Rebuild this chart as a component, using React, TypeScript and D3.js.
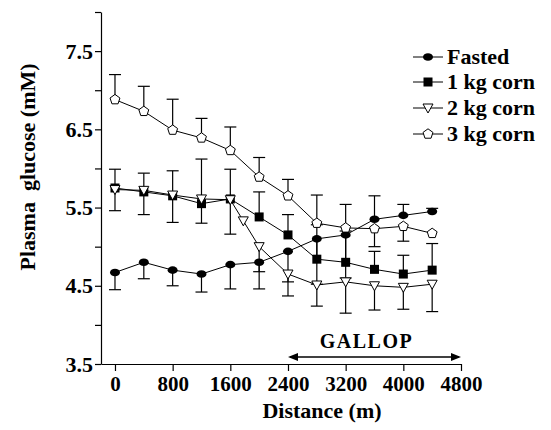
import { useEffect, useRef } from 'react';
import { select, scaleLinear, line, axisLeft, axisBottom, range } from 'd3';

// distances (m) where glucose was sampled
const distance = [0, 400, 800, 1200, 1600, 2000, 2400, 2800, 3200, 3600, 4000, 4400];
// the 2 kg series has one extra sample between 1600 and 2000
const distance2kg = [0, 400, 800, 1200, 1600, 1780, 2000, 2400, 2800, 3200, 3600, 4000, 4400];

// Fasted
const fasted = [4.67, 4.80, 4.70, 4.65, 4.77, 4.80, 4.94, 5.10, 5.15, 5.35, 5.40, 5.45];
const fastedLow = [4.45, 4.59, 4.50, 4.42, 4.46, 4.46, 4.55, 4.52, 4.60, null, null, null];
const fastedHigh = [null, null, null, null, null, null, null, null, null, 5.65, 5.54, 5.49];

// 1 kg corn
const corn1 = [5.75, 5.70, 5.65, 5.55, 5.61, 5.38, 5.15, 4.84, 4.80, 4.71, 4.65, 4.70];
const corn1High = [5.99, 5.94, 5.97, 6.12, 5.99, 5.70, 5.41, 5.28, 5.20, 4.94, 4.89, 5.04];

// 2 kg corn
const corn2 = [5.73, 5.72, 5.66, 5.61, 5.60, 5.33, 5.00, 4.65, 4.51, 4.55, 4.50, 4.48, 4.52];
const corn2Low = [5.46, 5.41, 5.31, 5.30, 5.16, null, 4.68, 4.37, 4.24, 4.15, 4.19, 4.20, 4.17];

// 3 kg corn
const corn3 = [6.88, 6.73, 6.49, 6.39, 6.23, 5.89, 5.65, 5.30, 5.24, 5.23, 5.26, 5.17];
const corn3High = [7.20, 7.05, 6.885, 6.64, 6.53, 6.14, 5.86, 5.66, 5.54, null, null, null];
const corn3Low = [null, null, null, null, null, null, null, null, null, 5.00, 5.07, null];

const yTicks = range(3.5, 8.01, 0.5);
const yLabels = [3.5, 4.5, 5.5, 6.5, 7.5];
const xTicks = [0, 800, 1600, 2400, 3200, 4000, 4800];
const legendNames = ['Fasted', '1 kg corn', '2 kg corn', '3 kg corn'];
const gallop = [2400, 4800];

const FONT = "'Liberation Serif', 'Times New Roman', serif";

const App = () => {
  const ref = useRef(null);

  useEffect(() => {
    const svg = select(ref.current);
    svg.selectAll('*').remove();

    const x = scaleLinear().domain([-194, 4800]).range([101, 461]);
    const y = scaleLinear().domain([3.5, 8]).range([364, 12]);

    // ---- axes
    const yAxis = svg.append('g')
      .attr('transform', 'translate(101,0)')
      .call(axisLeft(y).tickValues(yTicks).tickSize(6).tickSizeOuter(0)
        .tickFormat(d => (yLabels.some(v => Math.abs(v - d) < 1e-6) ? d.toFixed(1) : '')));
    yAxis.selectAll('text')
      .attr('x', -8)
      .attr('font-family', FONT).attr('font-weight', 'bold').attr('font-size', 22)
      .attr('fill', '#000');

    const xAxis = svg.append('g')
      .attr('transform', 'translate(0,364)')
      .call(axisBottom(x).tickValues(xTicks).tickSize(7).tickSizeOuter(0).tickFormat(d => String(d)));
    xAxis.selectAll('text')
      .attr('y', 12)
      .attr('font-family', FONT).attr('font-weight', 'bold').attr('font-size', 21)
      .attr('fill', '#000');
    svg.selectAll('.domain, .tick line').attr('stroke', '#000').attr('stroke-width', 1.2);

    // axis titles
    svg.append('text')
      .attr('x', 322).attr('y', 418)
      .attr('text-anchor', 'middle')
      .attr('font-family', FONT).attr('font-weight', 'bold').attr('font-size', 22)
      .text('Distance (m)');
    svg.append('text')
      .attr('transform', 'translate(35,167) rotate(-90)')
      .attr('text-anchor', 'middle')
      .attr('font-family', FONT).attr('font-weight', 'bold').attr('font-size', 22)
      .attr('xml:space', 'preserve')
      .style('white-space', 'pre')
      .text('Plasma  glucose (mM)');

    // GALLOP arrow
    const ga = svg.append('g');
    const gy = 357;
    ga.append('line')
      .attr('x1', x(gallop[0]) + 2).attr('x2', x(gallop[1]) - 2)
      .attr('y1', gy).attr('y2', gy)
      .attr('stroke', '#000').attr('stroke-width', 1.5);
    const x0 = x(gallop[0]), x1 = x(gallop[1]);
    ga.append('path').attr('d', `M${x0},${gy} L${x0 + 10},${gy - 4} L${x0 + 10},${gy + 4} Z`);
    ga.append('path').attr('d', `M${x1},${gy} L${x1 - 10},${gy - 4} L${x1 - 10},${gy + 4} Z`);
    ga.append('text')
      .attr('x', (x0 + x1) / 2 - 8).attr('y', 348)
      .attr('text-anchor', 'middle')
      .attr('font-family', FONT).attr('font-weight', 'bold').attr('font-size', 20)
      .attr('letter-spacing', 1.5)
      .text('GALLOP');

    // ---- markers
    const drawMarker = (g, kind, cx, cy) => {
      if (kind === 'circle') {
        g.append('ellipse').attr('cx', cx).attr('cy', cy).attr('rx', 5).attr('ry', 3.8).attr('fill', '#000');
      } else if (kind === 'square') {
        g.append('rect').attr('x', cx - 4.5).attr('y', cy - 4.5).attr('width', 9).attr('height', 9).attr('fill', '#000');
      } else if (kind === 'triangle') {
        g.append('path')
          .attr('d', `M${cx - 5},${cy - 4} L${cx + 5},${cy - 4} L${cx},${cy + 5} Z`)
          .attr('fill', '#fff').attr('stroke', '#000').attr('stroke-width', 1);
      } else {
        const pts = range(5).map(i => {
          const a = -Math.PI / 2 + i * 2 * Math.PI / 5;
          return [cx + 5.2 * Math.cos(a), cy + 5.2 * Math.sin(a)];
        });
        g.append('path')
          .attr('d', 'M' + pts.map(p => p.join(',')).join('L') + 'Z')
          .attr('fill', '#fff').attr('stroke', '#000').attr('stroke-width', 1);
      }
    };

    const series = [
      { xs: distance, ys: fasted, ends: [fastedLow, fastedHigh], kind: 'circle' },
      { xs: distance, ys: corn1, ends: [corn1High], kind: 'square' },
      { xs: distance2kg, ys: corn2, ends: [corn2Low], kind: 'triangle' },
      { xs: distance, ys: corn3, ends: [corn3High, corn3Low], kind: 'pentagon' },
    ];

    const plot = svg.append('g');
    // error bars
    series.forEach(s => {
      s.ends.forEach(arr => {
        arr.forEach((e, i) => {
          if (e === null) return;
          const cx = x(s.xs[i]);
          plot.append('line').attr('x1', cx).attr('x2', cx)
            .attr('y1', y(s.ys[i])).attr('y2', y(e))
            .attr('stroke', '#000').attr('stroke-width', 1.2);
          plot.append('line').attr('x1', cx - 6).attr('x2', cx + 6)
            .attr('y1', y(e)).attr('y2', y(e))
            .attr('stroke', '#000').attr('stroke-width', 1.2);
        });
      });
    });
    // lines
    series.forEach(s => {
      const pts = s.xs.map((d, i) => [x(d), y(s.ys[i])]);
      plot.append('path')
        .attr('d', line()(pts))
        .attr('fill', 'none').attr('stroke', '#000').attr('stroke-width', 1);
    });
    // markers
    series.forEach(s => {
      s.xs.forEach((d, i) => drawMarker(plot, s.kind, x(d), y(s.ys[i])));
    });

    // ---- legend
    const lg = svg.append('g');
    const rowsY = [57, 82, 108, 134];
    series.forEach((s, i) => {
      const ly = rowsY[i];
      lg.append('line').attr('x1', 413).attr('x2', 443).attr('y1', ly).attr('y2', ly)
        .attr('stroke', '#000').attr('stroke-width', 1);
      drawMarker(lg, s.kind, 428, ly);
      lg.append('text')
        .attr('x', 447).attr('y', ly + 7)
        .attr('font-family', FONT).attr('font-weight', 'bold').attr('font-size', 22)
        .text(legendNames[i]);
    });
  }, []);

  return (
    <svg ref={ref} width={551} height={430}
      style={{ position: 'absolute', left: 0, top: 0, background: '#fff' }} />
  );
};

export default App;
